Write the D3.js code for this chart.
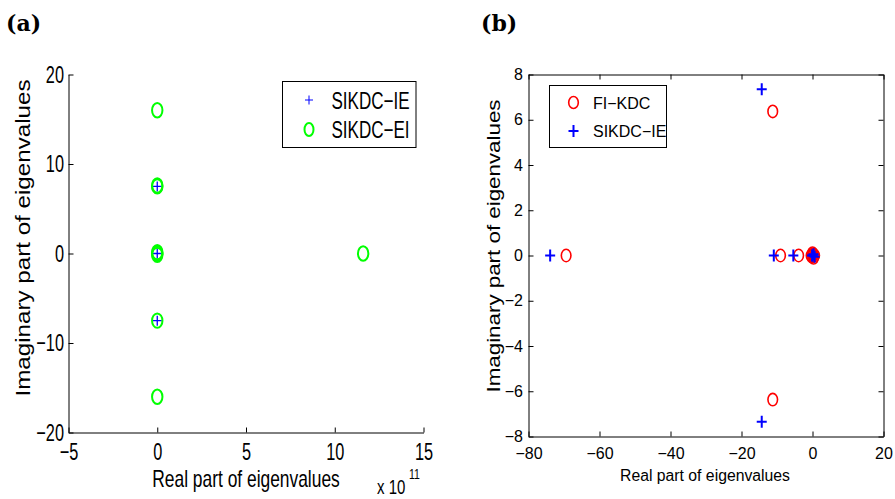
<!DOCTYPE html>
<html>
<head>
<meta charset="utf-8">
<script src="https://cdn.jsdelivr.net/npm/d3@7"></script>
<style>
  body { margin: 0; background: #fff; }
  svg { display: block; font-family: "Liberation Sans", Arial, sans-serif; }
  .axis path, .axis line { stroke: #000; stroke-width: 1; }
</style>
</head>
<body>
<script>
// ---- panel (a): real part in units of 1e11 ----
const aXTicks = [-5, 0, 5, 10, 15];
const aYTicks = [-20, -10, 0, 10, 20];
const aReIE = [0, 0, 0];
const aImIE = [7.5, 0, -7.5];
const aReEI = [0, 0, 0, 0, 0, 0, 0, 0, 11.6];
const aImEI = [16, 7.5, 7.6, 0, 0.15, -0.15, -7.5, -16, 0];

// ---- panel (b) ----
const bXTicks = [-80, -60, -40, -20, 0, 20];
const bYTicks = [-8, -6, -4, -2, 0, 2, 4, 6, 8];
const bReFI = [-69.4, -11.2, -11.2, -9.0, -3.9, -0.4, 0, 0.3, 0.6, 0.2, -0.2, 0.1];
const bImFI = [0, 6.37, -6.37, 0, 0, 0, 0.1, -0.1, 0, 0.05, -0.05, 0];
const bReIE = [-73.9, -14.3, -14.3, -10.9, -5.4, 0, 0.3, 0.6, -0.1];
const bImIE = [0, 7.35, -7.35, 0, 0, 0, 0.05, -0.05, 0];

const svg = d3.select('body').append('svg')
    .attr('width', 895)
    .attr('height', 499);

svg.append('rect').attr('width', 895).attr('height', 499).attr('fill', '#fff');

// panel titles
svg.append('text').attr('x', 6).attr('y', 31)
    .attr('font-family', '"DejaVu Serif", "Liberation Serif", serif')
    .attr('font-weight', 'bold').attr('font-size', 22).text('(a)');
svg.append('text').attr('x', 481).attr('y', 31)
    .attr('font-family', '"DejaVu Serif", "Liberation Serif", serif')
    .attr('font-weight', 'bold').attr('font-size', 22).text('(b)');

const plusPath = (w, h) => `M${-w / 2},0H${w / 2}M0,${-h / 2}V${h / 2}`;

// ================= panel (a) =================
const xa = d3.scaleLinear().domain([-5, 15]).range([68.5, 423.5]);
const ya = d3.scaleLinear().domain([-20, 20]).range([432.5, 74.5]);
const sxA = 0.68;

const gaX = svg.append('g')
    .attr('class', 'axis')
    .attr('transform', 'translate(0,432.5)')
    .call(d3.axisBottom(xa).tickValues(aXTicks).tickSizeInner(-5).tickSizeOuter(0).tickPadding(10.5));
gaX.selectAll('text')
    .attr('font-size', 24).attr('fill', '#000')
    .attr('transform', `scale(${sxA},1)`);

const gaY = svg.append('g')
    .attr('class', 'axis')
    .attr('transform', 'translate(68.5,0)')
    .call(d3.axisLeft(ya).tickValues(aYTicks).tickSizeInner(-5).tickSizeOuter(0));
gaY.selectAll('text')
    .attr('font-size', 24).attr('fill', '#000')
    .attr('x', -4.5 / sxA)
    .attr('transform', `scale(${sxA},1)`);
svg.selectAll('.axis').attr('font-family', null);

// axis labels (stretched vertically like the source image)
svg.append('text')
    .attr('transform', 'translate(246,487) scale(1,1.38)')
    .attr('text-anchor', 'middle')
    .attr('font-size', 17.4)
    .text('Real part of eigenvalues');
svg.append('text')
    .attr('transform', 'translate(30,238) rotate(-90)')
    .attr('text-anchor', 'middle')
    .attr('font-size', 21)
    .attr('textLength', 317).attr('lengthAdjust', 'spacingAndGlyphs')
    .text('Imaginary part of eigenvalues');

// exponent
svg.append('text')
    .attr('transform', 'translate(377,494) scale(0.75,1)')
    .attr('font-size', 20).text('x 10');
svg.append('text')
    .attr('transform', 'translate(409,479) scale(0.75,1)')
    .attr('font-size', 14).text('11');

// data
svg.append('g').selectAll('path')
    .data(d3.range(aReIE.length))
    .join('path')
    .attr('d', plusPath(9, 10))
    .attr('transform', i => `translate(${xa(aReIE[i])},${ya(aImIE[i])})`)
    .attr('stroke', '#0000ff').attr('stroke-width', 1.3).attr('fill', 'none');
svg.append('g').selectAll('ellipse')
    .data(d3.range(aReEI.length))
    .join('ellipse')
    .attr('cx', i => xa(aReEI[i]))
    .attr('cy', i => ya(aImEI[i]))
    .attr('rx', 5.2).attr('ry', 7.2)
    .attr('stroke', '#00ff00').attr('stroke-width', 2).attr('fill', 'none');

// legend (a)
const legA = svg.append('g');
legA.append('rect').attr('x', 282.5).attr('y', 81.5).attr('width', 133.5).attr('height', 66)
    .attr('fill', '#fff').attr('stroke', '#000');
legA.append('path').attr('d', plusPath(8, 9)).attr('transform', 'translate(309,100)')
    .attr('stroke', '#0000ff').attr('stroke-width', 1).attr('fill', 'none');
legA.append('ellipse').attr('cx', 309).attr('cy', 129.5).attr('rx', 4.5).attr('ry', 6.5)
    .attr('stroke', '#00ff00').attr('stroke-width', 2).attr('fill', 'none');
legA.append('text').attr('transform', `translate(331.5,108.5) scale(${sxA + 0.03},1)`)
    .attr('font-size', 24).text('SIKDC\u2212IE');
legA.append('text').attr('transform', `translate(331.5,137.5) scale(${sxA + 0.03},1)`)
    .attr('font-size', 24).text('SIKDC\u2212EI');

// ================= panel (b) =================
const xb = d3.scaleLinear().domain([-80, 20]).range([528.5, 883.5]);
const yb = d3.scaleLinear().domain([-8, 8]).range([436.5, 74.5]);

const gbX = svg.append('g')
    .attr('class', 'axis')
    .attr('transform', 'translate(0,436.5)')
    .call(d3.axisBottom(xb).tickValues(bXTicks).tickSizeInner(-5).tickSizeOuter(0).tickPadding(11));
gbX.selectAll('text').attr('font-size', 16).attr('fill', '#000');

const gbY = svg.append('g')
    .attr('class', 'axis')
    .attr('transform', 'translate(528.5,0)')
    .call(d3.axisLeft(yb).tickValues(bYTicks).tickSizeInner(-5).tickSizeOuter(0).tickPadding(5.5));
gbY.selectAll('text').attr('font-size', 16).attr('fill', '#000');

svg.append('g')
    .attr('class', 'axis')
    .attr('transform', 'translate(0,74.5)')
    .call(d3.axisTop(xb).tickValues(bXTicks).tickSizeInner(-5).tickSizeOuter(0).tickFormat(''));
svg.append('g')
    .attr('class', 'axis')
    .attr('transform', 'translate(883.5,0)')
    .call(d3.axisRight(yb).tickValues(bYTicks).tickSizeInner(-5).tickSizeOuter(0).tickFormat(''));
svg.selectAll('.axis').attr('font-family', null);

svg.append('text')
    .attr('x', 705).attr('y', 481)
    .attr('text-anchor', 'middle')
    .attr('font-size', 16)
    .attr('textLength', 170).attr('lengthAdjust', 'spacingAndGlyphs')
    .text('Real part of eigenvalues');
svg.append('text')
    .attr('transform', 'translate(500,246) rotate(-90)')
    .attr('text-anchor', 'middle')
    .attr('font-size', 18)
    .attr('textLength', 293).attr('lengthAdjust', 'spacingAndGlyphs')
    .text('Imaginary part of eigenvalues');

// data
svg.append('g').selectAll('ellipse')
    .data(d3.range(bReFI.length))
    .join('ellipse')
    .attr('cx', i => xb(bReFI[i]))
    .attr('cy', i => yb(bImFI[i]))
    .attr('rx', 4.8).attr('ry', 6.2)
    .attr('stroke', '#ff0000').attr('stroke-width', 1.6).attr('fill', 'none');
svg.append('g').selectAll('path')
    .data(d3.range(bReIE.length))
    .join('path')
    .attr('d', plusPath(10, 12))
    .attr('transform', i => `translate(${xb(bReIE[i])},${yb(bImIE[i])})`)
    .attr('stroke', '#0000ff').attr('stroke-width', 2).attr('fill', 'none');

// legend (b)
const legB = svg.append('g');
legB.append('rect').attr('x', 549.5).attr('y', 85.5).attr('width', 117).attr('height', 62)
    .attr('fill', '#fff').attr('stroke', '#000');
legB.append('ellipse').attr('cx', 573.5).attr('cy', 102.5).attr('rx', 4.8).attr('ry', 6)
    .attr('stroke', '#ff0000').attr('stroke-width', 1.6).attr('fill', 'none');
legB.append('path').attr('d', plusPath(10, 12)).attr('transform', 'translate(573.5,131)')
    .attr('stroke', '#0000ff').attr('stroke-width', 2).attr('fill', 'none');
legB.append('text').attr('x', 593).attr('y', 108.5).attr('font-size', 16).text('FI\u2212KDC');
legB.append('text').attr('x', 593).attr('y', 137).attr('font-size', 16).text('SIKDC\u2212IE');
</script>
</body>
</html>
